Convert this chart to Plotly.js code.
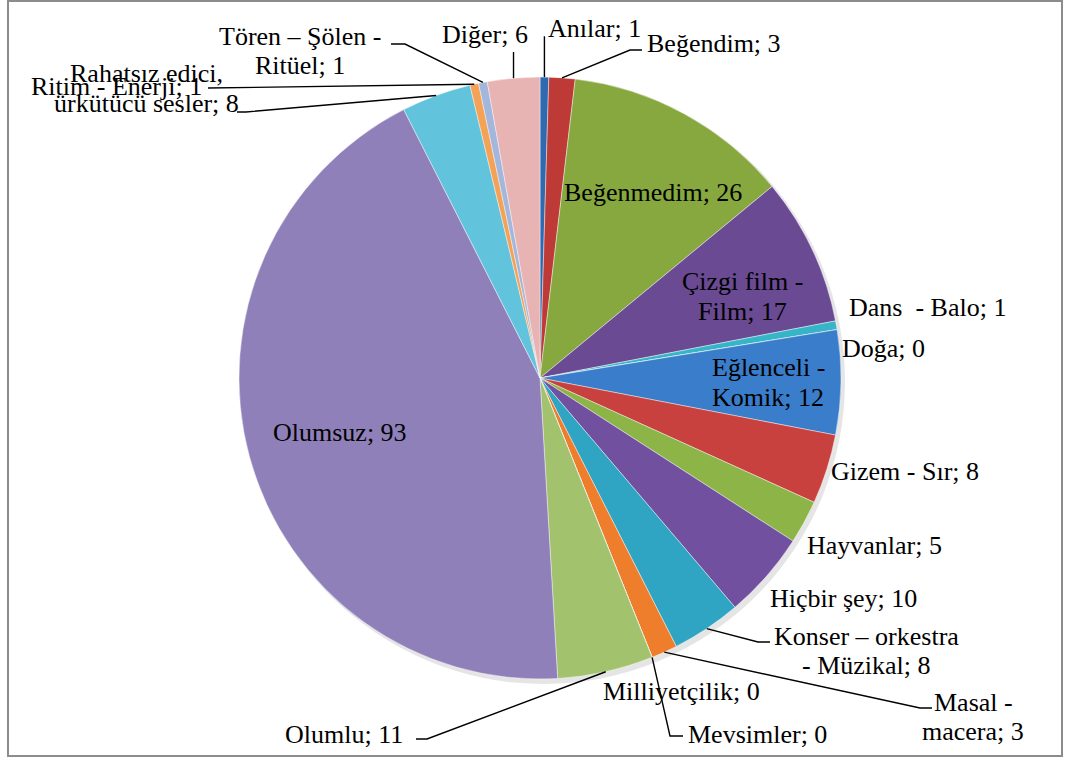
<!DOCTYPE html>
<html><head><meta charset="utf-8">
<script src="https://cdn.plot.ly/plotly-3.0.1.min.js"></script>
<style>html,body{margin:0;padding:0;background:#fff}</style>
</head><body><div id="chart" style="width:1066px;height:760px"></div>
<script>
// ---- data ----
const categories = ["Anılar","Beğendim","Beğenmedim","Çizgi film - Film","Dans  - Balo","Doğa","Eğlenceli - Komik","Gizem - Sır","Hayvanlar","Hiçbir şey","Konser – orkestra - Müzikal","Masal - macera","Mevsimler","Milliyetçilik","Olumlu","Olumsuz","Rahatsız edici, ürkütücü sesler","Ritim - Enerji","Tören – Şölen - Ritüel","Diğer"];
const counts = [1,3,26,17,1,0,12,8,5,10,8,3,0,0,11,93,8,1,1,6];

// ---- styles / layout ----
const sliceColors = ["#2F69B0","#BE3A36","#86A83F","#6B4A94","#37B5C8","#F07E2A","#3A7DCB","#C8413E","#8CB447","#7150A0","#2FA5C3","#EE7D2C","#2F69B0","#BE3A36","#A2C26E","#9080BA","#62C3DD","#F4A257","#A3B6DC","#E8B3B3"];
const W = 1066, H = 760;
const CX = 540, CY = 378, R = 301;
const FONT = {family:"Liberation Serif", size:26, color:"#000"};
const LINE_H = 29.5;
// label placement (pixel coords): first-line position, anchor, words on first line, leader elbows (null x = slice edge x)
const labelPlace = [
  {x:546, y:28, a:"left", pts:[[null,37],[545,37]]},
  {x:645, y:43, a:"left", pts:[[630,50],[642,50]]},
  {x:653, y:192, a:"center"},
  {x:742, y:282, a:"center", br:3},
  {x:847, y:308, a:"left"},
  {x:840, y:348, a:"left"},
  {x:768, y:368, a:"center", br:2},
  {x:829, y:471, a:"left"},
  {x:805, y:545, a:"left"},
  {x:768, y:598, a:"left"},
  {x:866, y:636, a:"center", br:3, pts:[[758,642],[770,642]]},
  {x:973, y:702, a:"center", br:2, pts:[[920,708],[932,708]]},
  {x:686, y:734, a:"left", pts:[[670,736],[683,736]]},
  {x:681, y:691, a:"center"},
  {x:405, y:734, a:"right", pts:[[427,739],[416,739]]},
  {x:340, y:432, a:"center"},
  {x:146, y:74, a:"center", br:2, pts:[[246,112],[237,112]]},
  {x:204, y:87, a:"right", pts:[[208,88]]},
  {x:300, y:36, a:"center", br:4, pts:[[405,44],[391,44]]},
  {x:485, y:35, a:"center", pts:[[null,52]]}
];

const px = x => x / W;
const py = y => 1 - y / H;

const total = counts.reduce((s, v) => s + v, 0);
let cum = 0;
const annotations = [];
const shapes = [];
categories.forEach((name, i) => {
  const v = counts[i];
  const midFrac = (cum + v / 2) / total;
  cum += v;
  const ang = midFrac * 2 * Math.PI;
  const ex = CX + R * Math.sin(ang), ey = CY - R * Math.cos(ang);
  const p = labelPlace[i];
  const full = name.replace(/  /g, " \u00a0") + "; " + v;
  let lines = [full];
  if (p.br) {
    const words = full.split(" ");
    lines = [words.slice(0, p.br).join(" "), words.slice(p.br).join(" ")];
  }
  lines.forEach((t, k) => {
    annotations.push({xref:"paper", yref:"paper", x:px(p.x), y:py(p.y + k * LINE_H),
      xanchor:p.a, yanchor:"middle", text:t, showarrow:false, font:Object.assign({}, FONT), align:p.a});
  });
  if (p.pts) {
    let d = "M" + px(ex) + "," + py(ey);
    p.pts.forEach(q => {
      const qx = q[0] === null ? ex : q[0];
      d += " L" + px(qx) + "," + py(q[1]);
    });
    shapes.push({type:"path", xref:"paper", yref:"paper", path:d, line:{color:"#000", width:1.4}, layer:"above"});
  }
});

// chart frame
shapes.push({type:"rect", xref:"paper", yref:"paper", x0:px(8), x1:px(1062), y0:py(756), y1:py(1), line:{color:"#8c8c8c", width:2}, layer:"below"});
// soft shadow under the pie
shapes.push({type:"circle", xref:"paper", yref:"paper", x0:px(CX-R+3), x1:px(CX+R+4), y0:py(CY+R+5), y1:py(CY-R+2), fillcolor:"rgba(0,0,0,0.10)", line:{width:0}, layer:"below"});

const trace = {
  type:"pie", labels:categories, values:counts, sort:false, direction:"clockwise", rotation:0,
  textinfo:"none", hoverinfo:"label+value", showlegend:false,
  marker:{colors:sliceColors, line:{color:"rgba(255,255,255,0.55)", width:0.8}},
  domain:{x:[px(CX-R), px(CX+R)], y:[py(CY+R), py(CY-R)]}
};

Plotly.newPlot("chart", [trace], {
  width:W, height:H, margin:{l:0,r:0,t:0,b:0}, paper_bgcolor:"#fff", showlegend:false,
  annotations:annotations, shapes:shapes
}, {staticPlot:true});
</script></body></html>
